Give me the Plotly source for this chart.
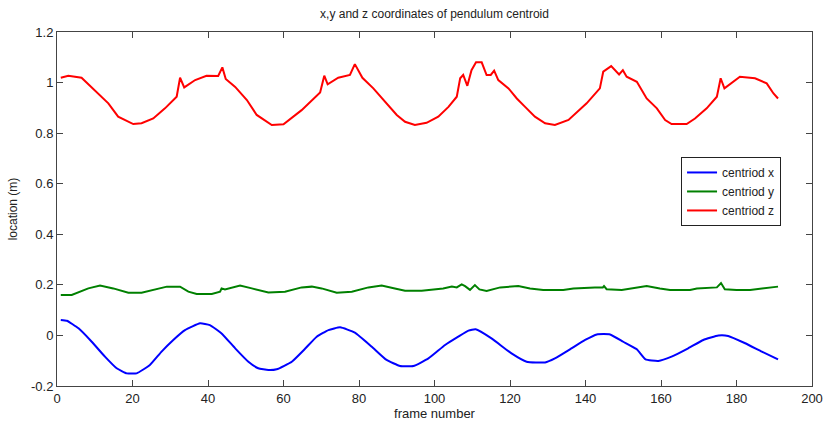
import plotly.graph_objects as go

# ---- data ----
frame_z = [1, 3, 6.5, 10, 13.6, 16.2, 20.2, 22.4, 25.5, 28.6, 31.7, 32.6, 33.7, 36.6, 39.6, 42.7,
           43.8, 44.7, 47.2, 50.3, 52.9, 56.9, 60, 64.8, 68.3, 69.7, 70.8, 71.7, 74.5, 77.6, 78.9,
           80.9, 83.8, 86.9, 90, 92.2, 94.8, 97.9, 101, 103.7, 105.9, 106.8, 107.6, 108.7, 109.8,
           111, 112.5, 113.8, 114.9, 115.8, 116.9, 119.6, 121.8, 124, 126.6, 129.3, 131.9, 135.5,
           140.3, 143.8, 144.7, 146.8, 148.9, 149.9, 150.9, 153.6, 156.2, 158.9, 161.1, 162.8,
           166.8, 169, 172.1, 174.8, 175.8, 176.8, 180.9, 184.9, 188, 189.8, 191]
centroid_z = [1.019, 1.027, 1.019, 0.970, 0.918, 0.865, 0.836, 0.839, 0.858, 0.898, 0.944, 1.019,
              0.981, 1.010, 1.027, 1.026, 1.060, 1.014, 0.983, 0.931, 0.872, 0.832, 0.835, 0.891,
              0.944, 0.961, 1.027, 0.993, 1.019, 1.030, 1.073, 1.019, 0.977, 0.924, 0.872, 0.845,
              0.832, 0.841, 0.865, 0.904, 0.944, 1.017, 1.030, 0.987, 1.049, 1.080, 1.080, 1.030,
              1.030, 1.047, 1.010, 0.977, 0.937, 0.904, 0.865, 0.839, 0.832, 0.852, 0.918, 0.977,
              1.043, 1.065, 1.032, 1.049, 1.023, 1.003, 0.937, 0.898, 0.852, 0.836, 0.836, 0.858,
              0.898, 0.944, 1.017, 0.977, 1.023, 1.017, 0.997, 0.957, 0.937]

frame_x = [1, 2.6, 5.7, 9.2, 12.7, 15.8, 18.5, 21.1, 24.6, 27.7, 30.8, 33.9, 37.9, 40.5, 43.6,
           47.2, 50.7, 53.3, 56, 58.2, 62.2, 65.7, 68.8, 71.9, 75, 78.9, 83.4, 87.3, 90.9, 94.4,
           98.4, 102.8, 106.3, 109, 110.9, 115.1, 120.4, 124.4, 129.3, 131.9, 135.9, 139.9, 143,
           146.5, 150, 153.6, 155.9, 159.3, 162.8, 167.2, 171.2, 175.2, 177.8, 182.3, 186.7, 191]
centroid_x = [0.061, 0.058, 0.028, -0.025, -0.084, -0.130, -0.150, -0.150, -0.117, -0.064,
              -0.018, 0.021, 0.048, 0.041, 0.008, -0.051, -0.104, -0.130, -0.137, -0.134, -0.104,
              -0.053, -0.005, 0.021, 0.032, 0.011, -0.045, -0.097, -0.121, -0.121, -0.091, -0.038,
              -0.005, 0.019, 0.024, -0.012, -0.071, -0.104, -0.107, -0.091, -0.055, -0.018, 0.004,
              0.004, -0.025, -0.055, -0.095, -0.101, -0.084, -0.051, -0.018, 0.000, -0.002,
              -0.031, -0.064, -0.095]

frame_y = [1, 3.9, 8.3, 11.4, 14.9, 18.9, 22.4, 26, 29.1, 32.6, 34.8, 37, 41, 43.2, 43.6, 44.5,
           48.5, 51.6, 56, 60.4, 64.8, 67.5, 70.1, 74.1, 78.1, 82.5, 86, 89.5, 92.2, 96.6, 100.1,
           102.3, 104.6, 105.9, 107.2, 108.1, 109.4, 110.7, 111.9, 113.8, 117.4, 122.2, 125.3,
           128.8, 134.1, 136.8, 142.5, 144.6, 144.9, 145.6, 149.6, 153.6, 156.2, 159.7, 162.4,
           167.7, 169.5, 174.8, 175.9, 176.9, 180, 183.6, 187, 191]
centroid_y = [0.160, 0.160, 0.186, 0.197, 0.186, 0.169, 0.169, 0.183, 0.193, 0.193, 0.173, 0.164,
              0.164, 0.173, 0.186, 0.182, 0.197, 0.186, 0.170, 0.173, 0.190, 0.193, 0.186, 0.169,
              0.173, 0.190, 0.197, 0.186, 0.177, 0.177, 0.182, 0.186, 0.193, 0.190, 0.202, 0.195,
              0.180, 0.199, 0.182, 0.176, 0.190, 0.195, 0.186, 0.180, 0.180, 0.186, 0.190, 0.190,
              0.195, 0.183, 0.180, 0.190, 0.195, 0.186, 0.180, 0.180, 0.186, 0.190, 0.207, 0.183,
              0.180, 0.180, 0.186, 0.193]

x_ticks = [0, 20, 40, 60, 80, 100, 120, 140, 160, 180, 200]
y_ticks = [-0.2, 0, 0.2, 0.4, 0.6, 0.8, 1, 1.2]
y_tick_labels = ["-0.2", "0", "0.2", "0.4", "0.6", "0.8", "1", "1.2"]

fig = go.Figure()
fig.add_trace(go.Scatter(x=frame_x, y=centroid_x, mode="lines", name="centriod x",
                         line=dict(color="#0000ff", width=2, shape="spline", smoothing=0.4)))
fig.add_trace(go.Scatter(x=frame_y, y=centroid_y, mode="lines", name="centriod y",
                         line=dict(color="#008000", width=2)))
fig.add_trace(go.Scatter(x=frame_z, y=centroid_z, mode="lines", name="centriod z",
                         line=dict(color="#ff0000", width=2)))

axis_common = dict(showgrid=False, zeroline=False, showline=True, linecolor="#444444",
                   linewidth=1, mirror="ticks", ticks="inside", ticklen=6, automargin=False,
                   ticklabeloverflow="allow",
                   tickcolor="#444444", tickfont=dict(size=13, color="#222222"))

fig.update_layout(
    width=824, height=421,
    margin=dict(l=57, r=12, t=32, b=35),
    paper_bgcolor="white", plot_bgcolor="white",
    font=dict(family="Liberation Sans, Arial, sans-serif", color="#222222"),
    title=dict(text="x,y and z coordinates of pendulum centroid", x=0.5, xanchor="center",
               xref="paper", yref="container", y=0.967, yanchor="middle",
               font=dict(size=12, color="#222222")),
    xaxis=dict(range=[0, 200], tickvals=x_ticks,
               title=dict(text="frame number", font=dict(size=13), standoff=2), **axis_common),
    yaxis=dict(range=[-0.2, 1.2], tickvals=y_ticks, ticktext=y_tick_labels,
               title=dict(text="location (m)", font=dict(size=12), standoff=10), **axis_common),
    legend=dict(x=0.959, y=0.647, xanchor="right", yanchor="top", bgcolor="white",
                bordercolor="#222222", borderwidth=1, font=dict(size=12, color="#222222"),
                tracegroupgap=0, itemwidth=30),
    showlegend=True,
)

# remove the default page margin so the figure fills the window exactly; hide the modebar
fig.write_html("out.html", config={"displayModeBar": False},
               post_script="document.body.style.margin='0';document.body.style.overflow='hidden';")
